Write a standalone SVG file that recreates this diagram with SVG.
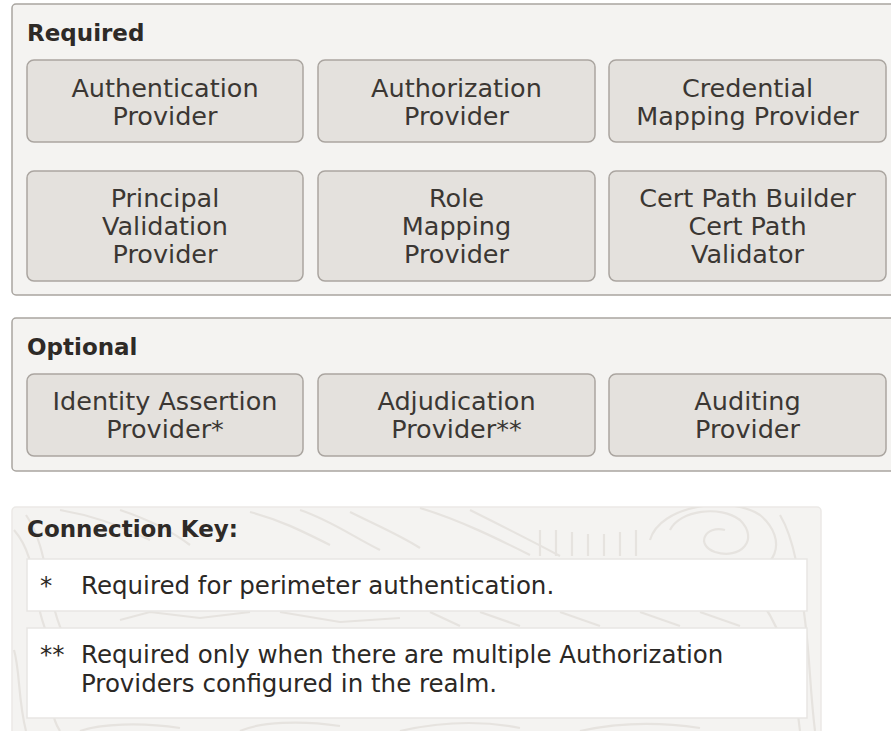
<svg xmlns="http://www.w3.org/2000/svg" width="891" height="731" viewBox="0 0 891 731">
<style>
.panel{fill:#f4f3f1;stroke:#a9a5a0;stroke-width:1.5}
.box{fill:#e4e1dd;stroke:#aaa5a0;stroke-width:1.5}
.t{font-family:"DejaVu Sans","Noto Sans","Liberation Sans",sans-serif;font-size:25.5px;fill:#3b3733;text-anchor:middle}
.h{font-family:"DejaVu Sans","Noto Sans","Liberation Sans",sans-serif;font-size:23px;font-weight:bold;fill:#2e2a27}
.k{font-family:"DejaVu Sans","Noto Sans","Liberation Sans",sans-serif;font-size:24.5px;fill:#2b2825}
.grain{fill:none;stroke:#e6e3df;stroke-width:2.2}
.key{fill:#ffffff;stroke:#e8e6e3;stroke-width:1.5}
</style>
<defs>
<clipPath id="kc"><rect x="12" y="507" width="809" height="230" rx="4"/></clipPath>
</defs>
<rect width="891" height="731" fill="#ffffff"/>

<g id="required">
<rect class="panel" x="12" y="4" width="900" height="291" rx="4"/>
<text class="h" x="27" y="41">Required</text>
</g>
<g id="authentication">
<rect class="box" x="27" y="60" width="276" height="82" rx="7"/>
<text class="t" x="165" y="97">Authentication</text>
<text class="t" x="165" y="125">Provider</text>
</g>
<g id="authorization">
<rect class="box" x="318" y="60" width="277" height="82" rx="7"/>
<text class="t" x="456.5" y="97">Authorization</text>
<text class="t" x="456.5" y="125">Provider</text>
</g>
<g id="credential">
<rect class="box" x="609" y="60" width="277" height="82" rx="7"/>
<text class="t" x="747.5" y="97">Credential</text>
<text class="t" x="747.5" y="125">Mapping Provider</text>
</g>
<g id="principal">
<rect class="box" x="27" y="171" width="276" height="110" rx="7"/>
<text class="t" x="165" y="207">Principal</text>
<text class="t" x="165" y="235">Validation</text>
<text class="t" x="165" y="263">Provider</text>
</g>
<g id="role">
<rect class="box" x="318" y="171" width="277" height="110" rx="7"/>
<text class="t" x="456.5" y="207">Role</text>
<text class="t" x="456.5" y="235">Mapping</text>
<text class="t" x="456.5" y="263">Provider</text>
</g>
<g id="certpath">
<rect class="box" x="609" y="171" width="277" height="110" rx="7"/>
<text class="t" x="747.5" y="207">Cert Path Builder</text>
<text class="t" x="747.5" y="235">Cert Path</text>
<text class="t" x="747.5" y="263">Validator</text>
</g>

<g id="optional">
<rect class="panel" x="12" y="318" width="900" height="153" rx="4"/>
<text class="h" x="27" y="355">Optional</text>
</g>
<g id="identity">
<rect class="box" x="27" y="374" width="276" height="82" rx="7"/>
<text class="t" x="165" y="410">Identity Assertion</text>
<text class="t" x="165" y="438">Provider*</text>
</g>
<g id="adjudication">
<rect class="box" x="318" y="374" width="277" height="82" rx="7"/>
<text class="t" x="456.5" y="410">Adjudication</text>
<text class="t" x="456.5" y="438">Provider**</text>
</g>
<g id="auditing">
<rect class="box" x="609" y="374" width="277" height="82" rx="7"/>
<text class="t" x="747.5" y="410">Auditing</text>
<text class="t" x="747.5" y="438">Provider</text>
</g>

<g id="connectors"></g>

<g id="key">
<rect x="12" y="507" width="809" height="230" rx="4" fill="#f4f3f1" stroke="#ebe9e6" stroke-width="1.5"/>
<g clip-path="url(#kc)">
<path class="grain" d="M14 530 C40 560 30 600 50 640 S40 700 60 731"/>
<path class="grain" d="M26 515 C50 550 45 600 66 640"/>
<path class="grain" d="M60 510 C90 515 120 525 150 540"/>
<path class="grain" d="M120 510 C150 520 170 530 190 545"/>
<path class="grain" d="M250 512 C280 520 300 530 330 545"/>
<path class="grain" d="M300 510 C330 520 350 535 380 550"/>
<path class="grain" d="M350 512 C370 522 400 535 420 548"/>
<path class="grain" d="M420 508 C460 520 500 540 530 555"/>
<path class="grain" d="M470 510 C500 525 530 540 560 556"/>
<path class="grain" d="M540 530 L540 556 M556 530 L556 556 M572 532 L572 556 M588 534 L588 556 M604 534 L604 556 M620 532 L620 556 M636 530 L636 556"/>
<path class="grain" d="M670 530 C680 510 720 505 740 520 C760 540 740 560 715 552 C695 545 705 525 725 530"/>
<path class="grain" d="M650 540 C660 505 730 495 760 515 C790 540 775 575 740 570"/>
<path class="grain" d="M780 515 C795 540 800 580 805 620 S810 690 815 731"/>
<path class="grain" d="M760 600 C790 640 795 690 800 731"/>
<path class="grain" d="M120 620 L150 612 L200 618 L250 612 M280 612 L340 622 L400 618 M430 612 L460 626 M480 612 L520 626 M560 612 L600 626 M640 612 L680 626 M700 612 L740 626"/>
<path class="grain" d="M80 731 C100 724 140 722 180 728 M240 731 C260 722 300 720 340 726 M400 731 C440 722 480 720 520 728 M580 731 C620 722 660 722 700 728"/>
<path class="grain" d="M14 650 C20 670 18 700 26 731"/>
</g>
<text class="h" x="27" y="537">Connection Key:</text>
<rect class="key" x="27" y="559" width="780" height="52"/>
<text class="k" x="40" y="594">*</text>
<text class="k" x="81" y="594">Required for perimeter authentication.</text>
<rect class="key" x="27" y="628" width="780" height="90"/>
<text class="k" x="40" y="663">**</text>
<text class="k" x="81" y="663">Required only when there are multiple Authorization</text>
<text class="k" x="81" y="692">Providers configured in the realm.</text>
</g>
</svg>
